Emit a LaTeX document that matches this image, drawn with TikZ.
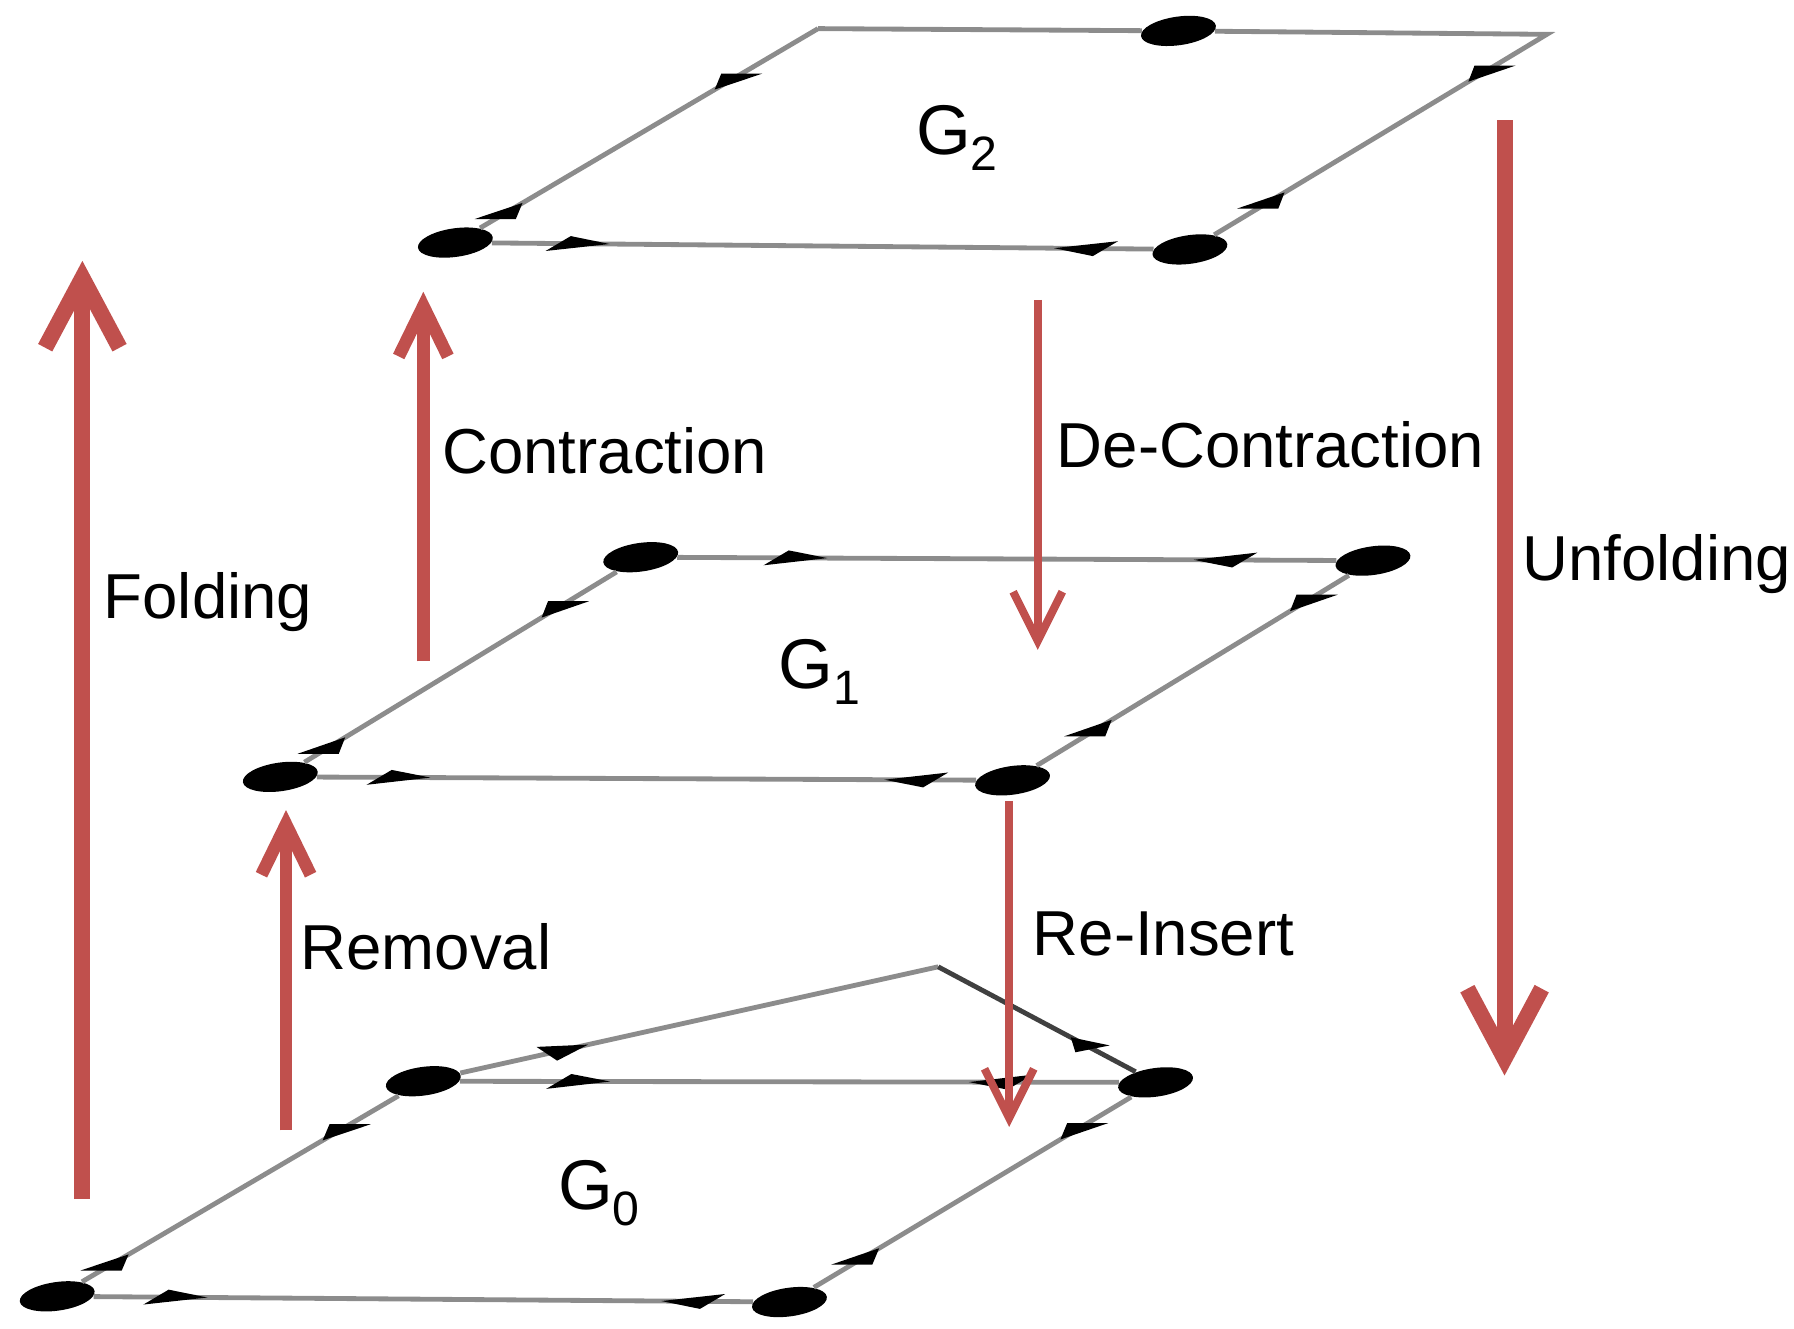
\documentclass[tikz,border=0pt]{standalone}
\usepackage{fontspec}
\setmainfont{Liberation Sans}
\usetikzlibrary{arrows.meta,calc,shapes.geometric}
\definecolor{Brick}{HTML}{C0504D}
\definecolor{Edge}{HTML}{8C8C8C}

% small flat wedge on a plane edge: from, to, base pos, tip pos, half base
\newcommand{\edgemark}[5]{%
  \fill ($(#1)!#3!(#2)+(#5)$) -- ($(#1)!#4!(#2)$) -- ($(#1)!#3!(#2)-(#5)$) -- cycle;}
\newcommand{\sublevel}[1]{\raisebox{-4pt}{\fontsize{12}{12}\selectfont #1}}

\begin{document}
\begin{tikzpicture}[x=0.1mm,y=-0.1mm,
    vertex/.style={ellipse,fill=black,inner sep=0pt,minimum width=6.6mm,
      minimum height=2.5mm,rotate=8},
    planeline/.style={draw=Edge,line width=1.2pt},
    bigmove/.style={draw=Brick,line width=1.4mm,
      -{Straight Barb[length=6.1mm,width=6.5mm]}},
    midmove/.style={draw=Brick,line width=1.1mm,
      -{Straight Barb[length=4.4mm,width=4.3mm]}},
    smallmove/.style={draw=Brick,line width=0.7mm,
      -{Straight Barb[length=4.3mm,width=4.3mm]}},
    lbl/.style={anchor=base west,inner sep=0pt,font=\fontsize{15.8}{19}\selectfont},
    level/.style={anchor=base west,inner sep=0pt,font=\fontsize{17.5}{20}\selectfont}
  ]
  \useasboundingbox (0,0) rectangle (1568,1161);

  % G2
  \coordinate (g2tl) at (715,25);
  \coordinate (g2tr) at (1352,30);
  \node[vertex] (g2t) at (1030,27) {};
  \node[vertex] (g2bl) at (398,212) {};
  \node[vertex] (g2br) at (1040,218) {};
  \draw[planeline] (g2tl) -- (g2t) -- (g2tr) -- (g2br) -- (g2bl) -- (g2tl);
  \edgemark{g2tl}{g2bl}{0.21}{0.285}{18,0}
  \edgemark{g2tl}{g2bl}{0.89}{0.815}{18,0}
  \edgemark{g2tr}{g2br}{0.145}{0.22}{18,0}
  \edgemark{g2tr}{g2br}{0.81}{0.735}{18,0}
  \edgemark{g2bl}{g2br}{0.14}{0.21}{11,-6.5}
  \edgemark{g2bl}{g2br}{0.885}{0.815}{11,-6.5}

  % G1
  \node[vertex] (g1tl) at (560,487) {};
  \node[vertex] (g1tr) at (1200,490) {};
  \node[vertex] (g1br) at (885,682) {};
  \node[vertex] (g1bl) at (245,679) {};
  \draw[planeline] (g1tl) -- (g1tr) -- (g1br) -- (g1bl) -- (g1tl);
  \edgemark{g1tl}{g1tr}{0.185}{0.255}{11,-6.5}
  \edgemark{g1tl}{g1tr}{0.825}{0.755}{11,-6.5}
  \edgemark{g1tl}{g1bl}{0.20}{0.275}{18,0}
  \edgemark{g1tl}{g1bl}{0.895}{0.82}{18,0}
  \edgemark{g1tr}{g1br}{0.155}{0.23}{18,0}
  \edgemark{g1tr}{g1br}{0.80}{0.725}{18,0}
  \edgemark{g1bl}{g1br}{0.135}{0.205}{11,-6.5}
  \edgemark{g1bl}{g1br}{0.895}{0.825}{11,-6.5}

  % G0
  \coordinate (g0back) at (820,845);
  \node[vertex] (g0tl) at (370,945) {};
  \node[vertex] (g0tr) at (1010,946) {};
  \node[vertex] (g0br) at (690,1138) {};
  \node[vertex] (g0bl) at (50,1133) {};
  \draw[planeline] (g0tl) -- (g0tr) -- (g0br) -- (g0bl) -- (g0tl);
  \draw[planeline] (g0tl) -- (g0back);
  \draw[planeline,draw=black!75] (g0back) -- (g0tr);
  \edgemark{g0back}{g0tl}{0.76}{0.68}{9,6}
  \edgemark{g0back}{g0tr}{0.71}{0.61}{15,-3}
  \edgemark{g0tl}{g0tr}{0.185}{0.255}{11,-6.5}
  \edgemark{g0tl}{g0tr}{0.815}{0.745}{11,-6.5}
  \edgemark{g0tl}{g0bl}{0.20}{0.275}{18,0}
  \edgemark{g0tl}{g0bl}{0.88}{0.805}{18,0}
  \edgemark{g0tr}{g0br}{0.185}{0.26}{18,0}
  \edgemark{g0tr}{g0br}{0.83}{0.755}{18,0}
  \edgemark{g0bl}{g0br}{0.135}{0.205}{11,-6.5}
  \edgemark{g0bl}{g0br}{0.895}{0.825}{11,-6.5}

  % moves between levels
  \coordinate (fold0) at (72,1048);
  \coordinate (fold1) at (72,228);
  \coordinate (contr0) at (370,578);
  \coordinate (contr1) at (370,255);
  \coordinate (remov0) at (250,988);
  \coordinate (remov1) at (250,708);
  \coordinate (decon0) at (907,262);
  \coordinate (decon1) at (907,568);
  \coordinate (reins0) at (882,700);
  \coordinate (reins1) at (882,985);
  \coordinate (unfold0) at (1315,105);
  \coordinate (unfold1) at (1315,940);
  \draw[bigmove] (fold0) -- (fold1);
  \draw[midmove] (contr0) -- (contr1);
  \draw[midmove] (remov0) -- (remov1);
  \draw[smallmove] (decon0) -- (decon1);
  \draw[smallmove] (reins0) -- (reins1);
  \draw[bigmove] (unfold0) -- (unfold1);

  \node[lbl] (folding) at (90,541) {Folding};
  \node[lbl] (contraction) at (386,414) {Contraction};
  \node[lbl] (removal) at (262,847) {Removal};
  \node[lbl] (decontraction) at (923,409) {De-Contraction};
  \node[lbl] (reinsert) at (902,835) {Re-Insert};
  \node[lbl] (unfolding) at (1330,507) {Unfolding};

  \node[level] (g2name) at (800,135) {G\sublevel{2}};
  \node[level] (g1name) at (680,602) {G\sublevel{1}};
  \node[level] (g0name) at (487,1057) {G\sublevel{0}};
\end{tikzpicture}
\end{document}
